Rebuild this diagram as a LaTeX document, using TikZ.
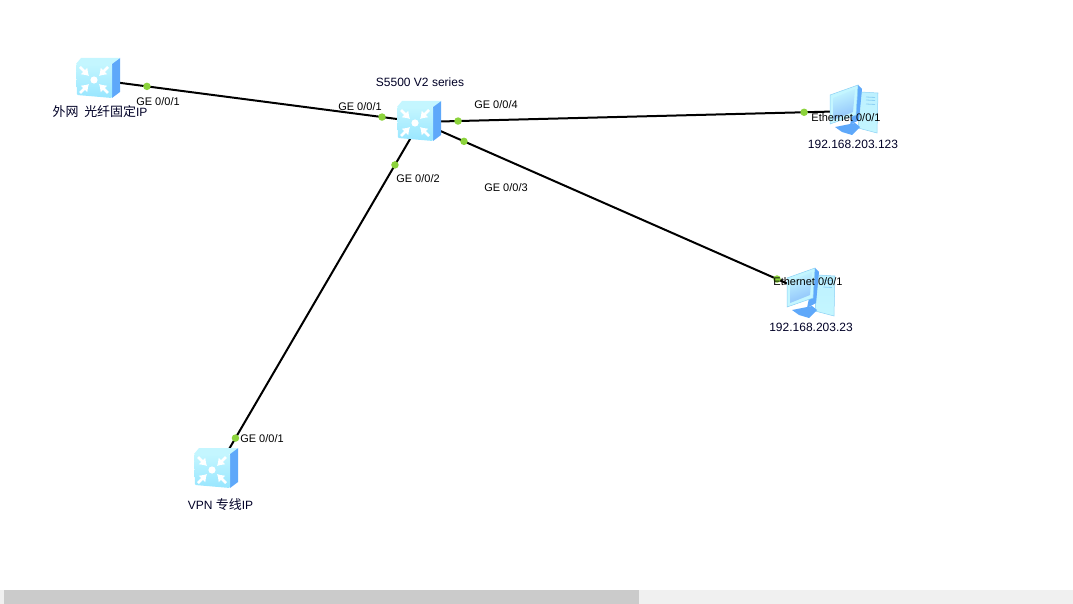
\documentclass[tikz,border=0pt]{standalone}
\usepackage{fontspec}
\setmainfont{Liberation Sans}
\newfontfamily\cjk{Noto Sans CJK SC}[Scale=1.08]
\usepackage{tikz}
\usetikzlibrary{positioning, arrows.meta}
\definecolor{portgreen}{HTML}{8CD33C}
\definecolor{iconfront}{HTML}{98E6FF}
\definecolor{icontop}{HTML}{C4F6FF}
\definecolor{iconside}{HTML}{5EA8FA}
\definecolor{iconedge}{HTML}{8CD0F5}
\definecolor{towerface}{HTML}{BDF1FF}
\definecolor{barthumb}{HTML}{CBCBCB}
\definecolor{bartrack}{HTML}{F0F0F0}

\begin{document}
\begin{tikzpicture}[
			x=1pt, y=-1pt,
			devbox/.style={minimum width=44pt, minimum height=40pt, inner sep=0pt},
			link/.style={line width=2pt, draw=black},
			portdot/.style={circle, fill=portgreen, minimum size=7.5pt, inner sep=0pt},
			portlabel/.style={inner sep=0pt, font=\fontsize{11}{12}\selectfont, text=black},
			devlabel/.style={inner sep=0pt, font=\fontsize{12}{14}\selectfont, text=black!85!blue},
			switchicon/.pic={
				\fill[iconside] (14,-15) -- (22,-20) -- (22,14) -- (14,20) -- cycle;
				\fill[icontop] (-22,-14) -- (-17,-20) -- (22,-20) -- (14,-14) -- cycle;
				\shade[top color=icontop, bottom color=iconfront, rounded corners=1pt] (-22,-14) -- (14,-14) -- (14,20) -- (-21,17) -- cycle;
				\foreach \ax/\ay in {-1/-1, 1/-1, -1/1, 1/1}
					\draw[-{Latex[length=7pt,width=10pt]}, white, line width=2.6pt] (-4+\ax*14,2+\ay*13) -- (-4+\ax*5,2+\ay*4);
				\fill[white] (-4,2) circle (3.6pt);
			},
			pcicon/.pic={
				\shade[top color=towerface, bottom color=icontop, draw=iconedge, line width=.5pt] (7,-18) -- (24,-17) -- (23,23) -- (4,18) -- cycle;
				\foreach \ly in {-13,-10,-6}
					\draw[iconedge, line width=.8pt] (12,\ly) -- (21,\ly+.5);
				\fill[iconside] (-19,17) -- (1,13) -- (6,17) -- (-2,25) -- (-12,22) -- cycle;
				\fill[iconside] (4,-25) -- (8,-21) -- (5,10) -- (-4,15) -- cycle;
				\fill[icontop, draw=iconedge, line width=.5pt] (-24,-15) -- (4,-25) -- (2,5) -- (-24,14) -- cycle;
				\shade[top color=icontop, bottom color=iconside!70, shading angle=20] (-21,-12) -- (1,-21) -- (-1,2) -- (-21,10) -- cycle;
			}
		]

		\useasboundingbox (0,0) rectangle (1073,604);

		\node[devbox] (uplink) at (98,80) {};
		\node[devbox] (core) at (420,122) {};
		\node[devbox] (vpnlink) at (218,468) {};
		\node[devbox] (pca) at (854,111) {};
		\node[devbox] (pcb) at (811,294) {};

		\draw[link] (uplink.center) -- node[portdot, pos=.152] (dot1) {} node[portdot, pos=.882] (dot2) {} (core.center);
		\draw[link] (core.center) -- node[portdot, pos=.0876] (dot3) {} node[portdot, pos=.885] (dot4) {} (pca.center);
		\draw[link] (core.center) -- node[portdot, pos=.1125] (dot5) {} node[portdot, pos=.913] (dot6) {} (pcb.center);
		\draw[link] (core.center) -- node[portdot, pos=.124] (dot7) {} node[portdot, pos=.9135] (dot8) {} (vpnlink.center);

		\pic[yshift=2pt] at (uplink) {switchicon};
		\pic[yshift=1pt, xshift=-1pt] at (core) {switchicon};
		\pic at ([xshift=-2pt]vpnlink) {switchicon};
		\pic[yshift=1pt] at (pca) {pcicon};
		\pic[yshift=1pt] at (pcb) {pcicon};

		\node[devlabel] (uplinkname) at (100,112) {{\cjk 外网\ \ 光纤固定}IP};
		\node[devlabel] (corename) at (420,82) {S5500 V2 series};
		\node[devlabel] (vpnname) at (220.5,505) {VPN {\cjk 专线}IP};
		\node[devlabel] (pcaname) at (853,144) {192.168.203.123};
		\node[devlabel] (pcbname) at (811,327.5) {192.168.203.23};

		\node[portlabel] (p1) at (158,102) {GE 0/0/1};
		\node[portlabel] (p2) at (360,106.5) {GE 0/0/1};
		\node[portlabel] (p3) at (496,105) {GE 0/0/4};
		\node[portlabel] (p4) at (506,188) {GE 0/0/3};
		\node[portlabel] (p5) at (418,179) {GE 0/0/2};
		\node[portlabel] (p6) at (262,439) {GE 0/0/1};
		\node[portlabel] (p7) at (846,118) {Ethernet 0/0/1};
		\node[portlabel] (p8) at (808,282) {Ethernet 0/0/1};

		\fill[bartrack] (0,590) rectangle (1073,604);
		\fill[barthumb] (4,590) rectangle (639,604);

	\end{tikzpicture}
\end{document}
